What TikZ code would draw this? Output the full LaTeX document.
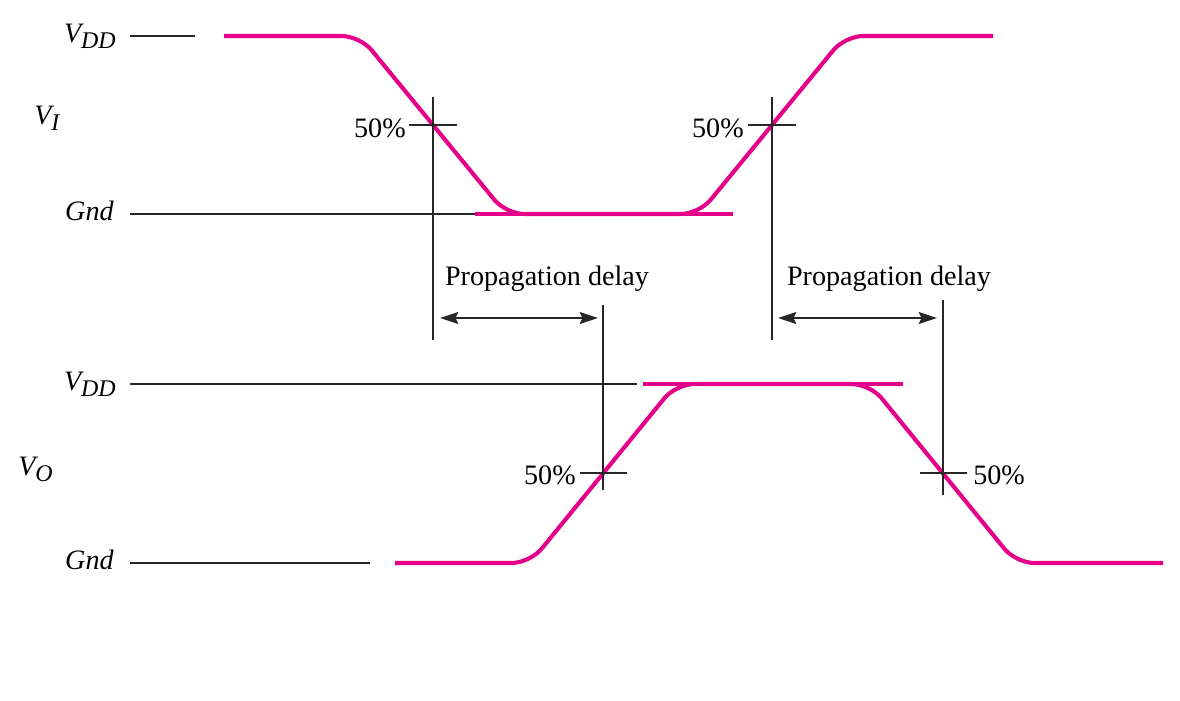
\documentclass[tikz,border=0pt]{standalone}
\usepackage{fontspec}
\setmainfont{Liberation Serif}
\usetikzlibrary{arrows.meta}
\definecolor{wavepink}{RGB}{230,0,137}
\newcommand{\vsym}[2]{{\itshape #1\raisebox{-0.45ex}{\fontsize{17}{20}\selectfont #2}}}
\begin{document}
\begin{tikzpicture}[x=0.025cm, y=-0.025cm, >={Stealth[length=13pt,width=8.5pt,inset=2pt]},
    wave/.style={draw=wavepink, line width=2.9pt, line join=round},
    ref/.style={draw=black!85, line width=1.3pt},
    lab/.style={font=\fontsize{20}{23}\selectfont, inner sep=0pt}]
    \useasboundingbox (0,0) rectangle (1180,700);

    % Eingang V_I
    \node[lab, anchor=east] (vddi) at (116,36) {\vsym{V}{DD}};
    \node[lab, anchor=west] (vi) at (34,118) {\vsym{V}{I}};
    \node[lab, anchor=east] (gndi) at (114,211) {\textit{Gnd}};
    \draw[ref] (130,36) -- (195,36);
    \draw[ref] (130,214) -- (480,214);
    \draw[wave, rounded corners=13pt] (224,36) -- (360,36) -- (506,214) -- (699,214) -- (845,36) -- (993,36);
    \draw[wave] (475,214) -- (733,214);

    % 50%-Marken oben
    \draw[ref] (433,97) -- (433,340);
    \draw[ref] (409,125) -- (457,125);
    \node[lab, anchor=east] (pa) at (406,128) {50\%};
    \draw[ref] (772,97) -- (772,340);
    \draw[ref] (748,125) -- (796,125);
    \node[lab, anchor=east] (pb) at (744,128) {50\%};

    % Ausgang V_O
    \node[lab, anchor=east] (vddo) at (116,384) {\vsym{V}{DD}};
    \node[lab, anchor=west] (vo) at (18,469) {\vsym{V}{O}};
    \node[lab, anchor=east] (gndo) at (114,560) {\textit{Gnd}};
    \draw[ref] (130,384) -- (637,384);
    \draw[ref] (130,563) -- (370,563);
    \draw[wave, rounded corners=13pt] (395,563) -- (530,563) -- (676,384) -- (870,384) -- (1016,563) -- (1163,563);
    \draw[wave] (643,384) -- (903,384);

    % 50%-Marken unten
    \draw[ref] (603,305) -- (603,490);
    \draw[ref] (580,473) -- (627,473);
    \node[lab, anchor=east] (pc) at (576,475) {50\%};
    \draw[ref] (943,300) -- (943,495);
    \draw[ref] (920,473) -- (967,473);
    \node[lab, anchor=west] (pd) at (973,475) {50\%};

    % Laufzeit
    \coordinate (da1) at (440,318);
    \coordinate (da2) at (598,318);
    \coordinate (db1) at (778,318);
    \coordinate (db2) at (937,318);
    \draw[<->, ref] (da1) -- (da2);
    \draw[<->, ref] (db1) -- (db2);
    \node[lab] (tda) at (547,279) {Propagation delay};
    \node[lab] (tdb) at (889,279) {Propagation delay};
\end{tikzpicture}
\end{document}
